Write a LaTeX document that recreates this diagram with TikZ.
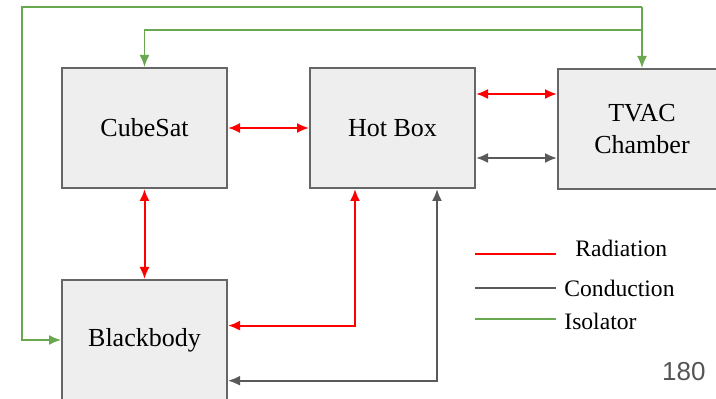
\documentclass[tikz,border=0pt]{standalone}
\usepackage{fontspec}
\setmainfont{Liberation Serif}
\setsansfont{Liberation Sans}
\usepackage{tikz}
\usetikzlibrary{positioning, arrows.meta}
\usepackage{xcolor}
\definecolor{boxfill}{HTML}{EEEEEE}
\definecolor{boxline}{HTML}{666666}
\definecolor{radred}{HTML}{FF0000}
\definecolor{condgray}{HTML}{595959}
\definecolor{isogreen}{HTML}{6AA84F}
\definecolor{pagegray}{HTML}{555555}

\tikzset{
  part/.style={draw=boxline, fill=boxfill, line width=1pt, minimum width=82.5pt,
    minimum height=60pt, font=\fontsize{13}{16}\selectfont, align=center},
  radiation/.style={draw=radred, line width=1pt, {Latex[length=6pt,width=5pt]}-{Latex[length=6pt,width=5pt]}},
  conduction/.style={draw=condgray, line width=1pt, {Latex[length=6pt,width=5pt]}-{Latex[length=6pt,width=5pt]}},
  isolator/.style={draw=isogreen, line width=0.8pt, -{Latex[length=6pt,width=5pt]}},
  legendtext/.style={font=\fontsize{11.8}{14}\selectfont, anchor=west, inner sep=0pt}
}

\begin{document}
\begin{tikzpicture}[x=0.5pt, y=-0.5pt]
      \useasboundingbox (0,0) rectangle (716,399);
      \node[part] (cubesat)   at (144.5,128) {CubeSat};
      \node[part] (hotbox)    at (392.5,128) {Hot Box};
      \node[part, minimum width=84pt] (tvac) at (642,129) {TVAC\\Chamber};
      \node[part] (blackbody) at (144.5,340) {Blackbody};

      % radiation links
      \draw[radiation] (cubesat.east) -- (hotbox.west);
      \draw[radiation] (cubesat.south) -- (blackbody.north);
      \draw[radiation] ([yshift=17pt]hotbox.east) -- ([yshift=17.5pt]tvac.west);
      \draw[radiation] ([xshift=-18.75pt]hotbox.south) |- ([yshift=7.2pt]blackbody.east);

      % conduction links
      \draw[conduction] ([yshift=-15pt]hotbox.east) -- ([yshift=-14.5pt]tvac.west);
      \draw[conduction] ([xshift=22.25pt]hotbox.south) |- ([yshift=-20.35pt]blackbody.east);

      % isolator links
      \coordinate (topright) at (642,7);
      \coordinate (topleft)  at (22,7);
      \coordinate (midright) at (642,30);
      \draw[isolator] (topright) -- (tvac.north);
      \draw[isolator] (topright) -- (topleft) |- (blackbody.west);
      \draw[isolator] (midright) -| (cubesat.north);

      % legend
      \coordinate (radA)  at (475,254);
      \coordinate (radB)  at (556,254);
      \coordinate (condA) at (475,288);
      \coordinate (condB) at (556,288);
      \coordinate (isoA)  at (475,319);
      \coordinate (isoB)  at (556,319);
      \draw[radred, line width=0.8pt] (radA) -- (radB);
      \draw[condgray, line width=0.8pt] (condA) -- (condB);
      \draw[isogreen, line width=0.8pt] (isoA) -- (isoB);
      \node[legendtext] (radlabel)  at (575,248) {Radiation};
      \node[legendtext] (condlabel) at (564,288) {Conduction};
      \node[legendtext] (isolabel)  at (564,321) {Isolator};

      \node[font=\sffamily\fontsize{13}{15}\selectfont, text=pagegray, anchor=east, inner sep=0pt] (pagenum) at (706,372) {180};
    \end{tikzpicture}
\end{document}
